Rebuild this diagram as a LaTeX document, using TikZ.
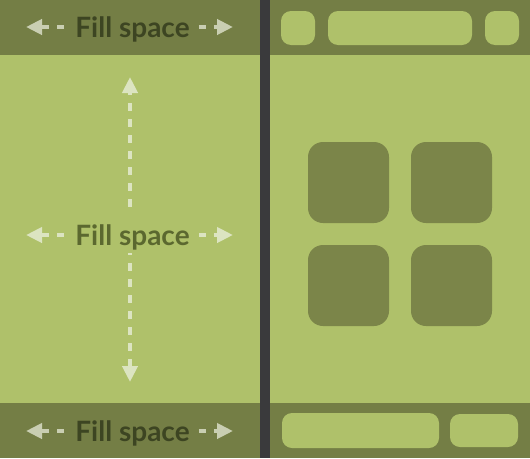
\documentclass[tikz,border=0pt]{standalone}
\usepackage{fontspec}
\setmainfont{Lato}
\usetikzlibrary{arrows.meta}
\definecolor{panel}  {HTML}{AFC16A}
\definecolor{bar}    {HTML}{747E45}
\definecolor{divider}{HTML}{3A3A3C}
\definecolor{tile}   {HTML}{7B8549}
\definecolor{bartext}{HTML}{3D4522}
\definecolor{midtext}{HTML}{5B682F}
\definecolor{barhint}{HTML}{C9CEB2}
\definecolor{hint}   {HTML}{DCE4C1}
\tikzset{
  filltext/.style={font=\bfseries\fontsize{28}{28}\selectfont, inner sep=0pt,
    text height=20pt, text depth=0pt, anchor=base},
  fillarrow/.style={line width=4pt, -{Triangle[length=16pt, width=15pt]}},
}

\begin{document}
\begin{tikzpicture}[x=1pt, y=-1pt]
  \useasboundingbox (0,0) rectangle (530,458);
  % panels and bars
  \fill[panel] (0,0) rectangle (530,458);
  \fill[bar] (0,0) rectangle (530,55);
  \fill[bar] (0,403) rectangle (530,458);
  \fill[divider] (260,0) rectangle (270,458);
  % right side tiles
  \foreach \xa/\ya/\xb/\yb in {281/11/315/45, 328/11/472/45, 485/11/519/45,
                               282/413/439/448, 450/414/518/447}
    {\fill[panel, rounded corners=10pt] (\xa,\ya) rectangle (\xb,\yb);}
  \foreach \xa/\ya in {308/142, 411/142, 308/245, 411/245}
    {\fill[tile, rounded corners=15pt] (\xa,\ya) rectangle ++(81,81);}
  % fill space labels with horizontal arrows
  \foreach \n/\y/\t/\a in {top/37/bartext/barhint, mid/245/midtext/hint, bot/441/bartext/barhint}
    {\node[filltext, text=\t] (\n) at (132.5,\y) {Fill space};
     \coordinate (\n-l) at (26,\y-10);
     \coordinate (\n-r) at (233,\y-10);
     \draw[fillarrow, \a, dash pattern=on 7pt off 8pt, shorten <=11pt] (\n.west) -- (\n-l);
     \draw[fillarrow, \a, dash pattern=on 7pt off 8pt, shorten <=9pt] (\n.east) -- (\n-r);}
  % vertical arrows
  \coordinate (up) at (130,77);
  \coordinate (down) at (130,382);
  \draw[fillarrow, hint, dash pattern=on 8pt off 8pt, shorten <=18pt] (mid.north -| up) -- (up);
  \draw[fillarrow, hint, dash pattern=on 8pt off 8pt, dash phase=6pt, shorten <=8pt] (mid.south -| down) -- (down);
\end{tikzpicture}
\end{document}
